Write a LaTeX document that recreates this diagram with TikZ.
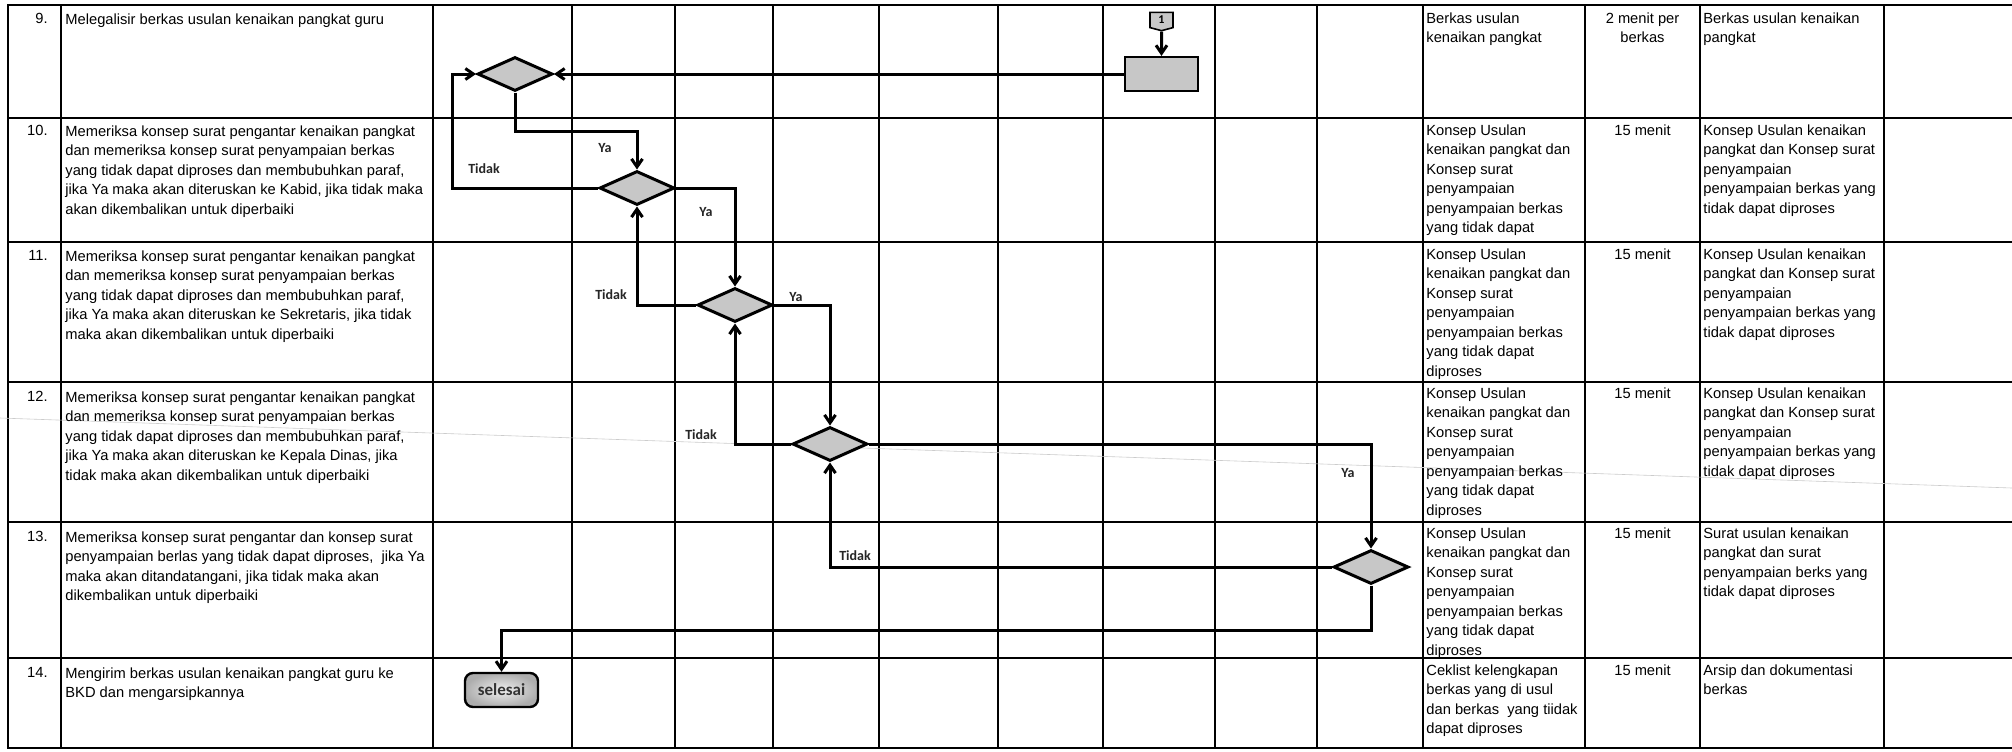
\documentclass[tikz,border=0pt]{standalone}
\usepackage{fontspec}
\newfontfamily\arialfont{Liberation Sans}
\newfontfamily\calibrifont{Carlito}
\usetikzlibrary{arrows.meta,shapes.geometric,shapes.symbols}

\newcommand{\konseptext}{Konsep Usulan\\kenaikan pangkat dan\\Konsep surat\\penyampaian\\penyampaian berkas\\yang tidak dapat}
\newcommand{\konsepout}{Konsep Usulan kenaikan\\pangkat dan Konsep surat\\penyampaian\\penyampaian berkas yang\\tidak dapat diproses}

\tikzset{
  grid line/.style={line width=0.9pt},
  frame line/.style={line width=1.4pt},
  flow/.style={line width=1.5pt, -{Straight Barb[length=4pt,width=5.5pt]}},
  decision/.style={diamond, draw, line width=1.5pt, fill=black!22,
    minimum width=37.5pt, minimum height=17pt, inner sep=0pt},
  process/.style={rectangle, draw, line width=1.1pt, fill=black!22,
    minimum width=36.5pt, minimum height=17pt, inner sep=0pt},
  offpage/.style={signal, signal to=south, signal pointer angle=150, draw,
    line width=0.8pt, fill=black!22, minimum width=11.5pt, minimum height=8pt,
    inner sep=0pt, font=\calibrifont\bfseries\fontsize{6}{6}\selectfont},
  terminal/.style={rectangle, rounded corners=4pt, draw, line width=1.2pt,
    inner color=black!6, outer color=black!32, minimum width=36.5pt,
    minimum height=17pt, inner sep=0pt, text=black!80,
    font=\calibrifont\bfseries\fontsize{8.5}{9}\selectfont},
  lbl/.style={inner sep=0pt, text=black!85, font=\calibrifont\bfseries\fontsize{7}{8}\selectfont},
  num/.style={anchor=north east, inner sep=0pt, font=\arialfont\fontsize{7.35}{9.75}\selectfont},
  cell/.style={anchor=north west, inner sep=0pt, align=left, font=\arialfont\fontsize{7.35}{9.75}\selectfont},
  time/.style={anchor=north, inner sep=0pt, align=center, font=\arialfont\fontsize{7.35}{9.75}\selectfont},
}

\begin{document}
\begin{tikzpicture}[x=0.5pt, y=-0.5pt]
  \useasboundingbox (0,0) rectangle (2012,751);
  \fill[white] (0,0) rectangle (2012,751);
  % table grid
  \foreach \y in {118,242,382,522,658}
    \draw[grid line] (8,\y) -- (2012,\y);
  \foreach \x in {61,433,572,675,773,879,998,1103,1215,1317,1423,1585,1700,1884}
    \draw[grid line] (\x,5) -- (\x,748);
  \draw[frame line] (2012,5) -- (8,5) -- (8,748) -- (2012,748);
  % scanner streak
  \draw[black!20, line width=0.3pt] (0,418) -- (2012,488);

  % step numbers and descriptions
  \node[num] (n9) at (48,13) {9.};
  \node[cell] (t9) at (65,13) {Melegalisir berkas usulan kenaikan pangkat guru};
  \node[num] (n10) at (48,125) {10.};
  \node[cell] (t10) at (65,125) {Memeriksa konsep surat pengantar kenaikan pangkat\\dan memeriksa konsep surat penyampaian berkas\\yang tidak dapat diproses dan membubuhkan paraf,\\jika Ya maka akan diteruskan ke Kabid, jika tidak maka\\akan dikembalikan untuk diperbaiki};
  \node[num] (n11) at (48,250) {11.};
  \node[cell] (t11) at (65,250) {Memeriksa konsep surat pengantar kenaikan pangkat\\dan memeriksa konsep surat penyampaian berkas\\yang tidak dapat diproses dan membubuhkan paraf,\\jika Ya maka akan diteruskan ke Sekretaris, jika tidak\\maka akan dikembalikan untuk diperbaiki};
  \node[num] (n12) at (48,391) {12.};
  \node[cell] (t12) at (65,391) {Memeriksa konsep surat pengantar kenaikan pangkat\\dan memeriksa konsep surat penyampaian berkas\\yang tidak dapat diproses dan membubuhkan paraf,\\jika Ya maka akan diteruskan ke Kepala Dinas, jika\\tidak maka akan dikembalikan untuk diperbaiki};
  \node[num] (n13) at (48,531) {13.};
  \node[cell] (t13) at (65,531) {Memeriksa konsep surat pengantar dan konsep surat\\penyampaian berlas yang tidak dapat diproses,\ \ jika Ya\\maka akan ditandatangani, jika tidak maka akan\\dikembalikan untuk diperbaiki};
  \node[num] (n14) at (48,667) {14.};
  \node[cell] (t14) at (65,667) {Mengirim berkas usulan kenaikan pangkat guru ke\\BKD dan mengarsipkannya};

  % requirements, time, output
  \node[cell] (k9) at (1426,12) {Berkas usulan\\kenaikan pangkat};
  \node[time] (w9) at (1642.5,12) {2 menit per\\berkas};
  \node[cell] (o9) at (1703,12) {Berkas usulan kenaikan\\pangkat};
  \node[cell] (k10) at (1426,124) {\konseptext};
  \node[time] (w10) at (1642.5,124) {15 menit};
  \node[cell] (o10) at (1703,124) {\konsepout};
  \node[cell] (k11) at (1426,248) {\konseptext\\diproses};
  \node[time] (w11) at (1642.5,248) {15 menit};
  \node[cell] (o11) at (1703,248) {\konsepout};
  \node[cell] (k12) at (1426,387) {\konseptext\\diproses};
  \node[time] (w12) at (1642.5,387) {15 menit};
  \node[cell] (o12) at (1703,387) {\konsepout};
  \node[cell] (k13) at (1426,527) {\konseptext\\diproses};
  \node[time] (w13) at (1642.5,527) {15 menit};
  \node[cell] (o13) at (1703,527) {Surat usulan kenaikan\\pangkat dan surat\\penyampaian berks yang\\tidak dapat diproses};
  \node[cell] (k14) at (1426,664) {Ceklist kelengkapan\\berkas yang di usul\\dan berkas\ \ yang tiidak\\dapat diproses};
  \node[time] (w14) at (1642.5,664) {15 menit};
  \node[cell] (o14) at (1703,664) {Arsip dan dokumentasi\\berkas};

  % flow symbols
  \node[offpage] (c1) at (1161.5,20) {1};
  \node[process] (p1) at (1161.5,74) {};
  \node[decision] (d1) at (515,74) {};
  \node[decision] (d2) at (637,188) {};
  \node[decision] (d3) at (735,305) {};
  \node[decision] (d4) at (830,444) {};
  \node[decision] (d5) at (1371,567) {};
  \node[terminal] (end) at (501.5,690) {selesai};

  % bends
  \coordinate (b1) at (515,131);
  \coordinate (t1) at (452,188);
  \coordinate (b5) at (1371,630);

  % connectors
  \draw[flow] (c1) -- (p1);
  \draw[flow] (p1.west) -- (d1.east);
  \draw[flow] (d1.south) -- (b1) -| (d2.north);
  \draw[flow] (d2.west) -- (t1) |- (d1.west);
  \draw[flow] (d2.east) -| (d3.north);
  \draw[flow] (d3.west) -| (d2.south);
  \draw[flow] (d3.east) -| (d4.north);
  \draw[flow] (d4.west) -| (d3.south);
  \draw[flow] (d4.east) -| (d5.north);
  \draw[flow] (d5.west) -| (d4.south);
  \draw[flow] (d5.south) -- (b5) -| (end.north);

  % branch labels
  \node[lbl] (ya1) at (605,148) {Ya};
  \node[lbl] (no1) at (484,169) {Tidak};
  \node[lbl] (ya2) at (706,212) {Ya};
  \node[lbl] (no2) at (611,295) {Tidak};
  \node[lbl] (ya3) at (796,297) {Ya};
  \node[lbl] (no3) at (701,435) {Tidak};
  \node[lbl] (ya4) at (1348,473) {Ya};
  \node[lbl] (no4) at (855,556) {Tidak};
\end{tikzpicture}
\end{document}
